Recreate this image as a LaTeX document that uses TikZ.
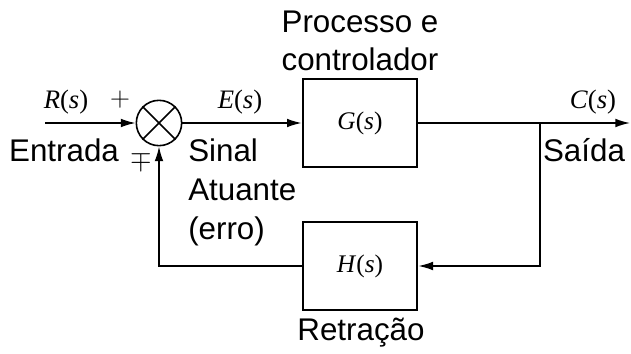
\documentclass[tikz,border=0pt]{standalone}
\usepackage{fontspec}
\setmainfont{Liberation Sans}
\newfontfamily\cstimes{Liberation Serif}
\usepackage{tikz}
\usetikzlibrary{arrows.meta,positioning}
\tikzset{
  cs diagram/.style={line join=miter, font=\fontsize{23.5}{29}\selectfont},
  cs block/.style={draw, line width=1.5pt, minimum width=86pt,
    minimum height=66pt, inner sep=0pt, font=\cstimes\fontsize{19}{22}\selectfont},
  cs sum/.style={draw, circle, line width=1.2pt, minimum size=34pt, inner sep=0pt},
  cs line/.style={line width=1.1pt},
  cs arrow/.style={cs line, -{Latex[length=11pt,width=6.5pt]}},
  cs signal/.style={font=\cstimes\fontsize{20}{22}\selectfont, inner sep=0pt},
  cs sign/.style={font=\fontsize{22}{24}\selectfont, inner sep=0pt},
  cs label/.style={font=\fontsize{23.5}{29}\selectfont, inner sep=0pt}
}

\begin{document}
\begin{tikzpicture}[cs diagram,x=0.75pt,y=-0.75pt]
\useasboundingbox (0,0) rectangle (631,353);
% blocks
\node[cs sum] (sum) at (159,123) {};
\draw[cs line] (sum.north west) -- (sum.south east);
\draw[cs line] (sum.north east) -- (sum.south west);
\node[cs block] (G) at (360,123) {\textit{G}(\textit{s})};
\node[cs block] (H) at (360,266) {\textit{H}(\textit{s})};
\coordinate (in) at (45,123);
\coordinate (branch) at (540,123);
\coordinate (out) at (630,123);
\coordinate (back) at (540,266);
\coordinate (corner) at (159,266);
% signals
\draw[cs arrow] (in) -- (sum);
\draw[cs arrow] (sum) -- (G);
\draw[cs arrow] (G) -- (out);
\draw[cs arrow] (branch) -- (back) -- (H);
\draw[cs arrow] (H) -- (corner) -- (sum);
% texts
\node[cs signal] (R) at (66,102) {\textit{R}(\textit{s})};
\node[cs sign] (plus) at (120,100) {$+$};
\node[cs sign] (minus) at (141,161) {$\mp$};
\node[cs signal] (E) at (240,102) {\textit{E}(\textit{s})};
\node[cs signal] (C) at (593,102) {\textit{C}(\textit{s})};
\node[cs label] (entrada) at (64,150) {Entrada};
\node[cs label] (saida) at (584,150) {Saída};
\node[cs label, align=center] (proc) at (360,41) {Processo e\\controlador};
\node[cs label, align=left, anchor=north west] (sinal) at (188,139) {Sinal\\Atuante\\(erro)};
\node[cs label] (retr) at (361,333) {Retração};
\end{tikzpicture}
\end{document}
